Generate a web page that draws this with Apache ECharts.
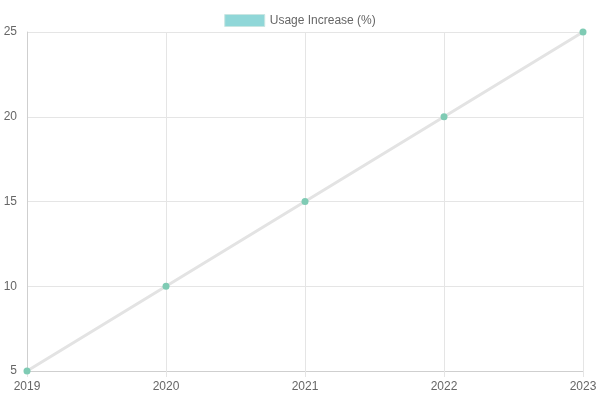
<!DOCTYPE html>
<html>
<head>
	<meta charset="utf-8">
	<title>usage</title>
	<script src="https://cdn.jsdelivr.net/npm/echarts@6/dist/echarts.min.js"></script>
	<style>
		html, body { margin: 0; padding: 0; background: #fff; }
		#DIV1 { width: 600px; height: 400px; }
	</style>
</head>
<body>
	<div id="DIV1"></div>
	<script>
		const years = ["2019", "2020", "2021", "2022", "2023"];
		const usageIncrease = [5, 10, 15, 20, 25];
		const seriesName = "Usage Increase (%)";

		const chart = echarts.init(document.getElementById("DIV1"));
		const fontFamily = "'Liberation Sans', Arial, sans-serif";

		chart.setOption({
			animation: false,
			textStyle: { fontFamily: fontFamily },
			legend: {
				top: 9,
				left: "center",
				itemWidth: 40,
				itemHeight: 12,
				itemGap: 10,
				textStyle: { color: "#666", fontSize: 12, fontFamily: fontFamily },
				data: [{
					name: seriesName,
					icon: "rect",
					itemStyle: { color: "#90d7d8", borderColor: "#c9e6e2", borderWidth: 1 }
				}]
			},
			grid: { left: 27, right: 17, top: 32, bottom: 29, containLabel: false },
			xAxis: {
				type: "category",
				data: years,
				boundaryGap: false,
				axisLine: { lineStyle: { color: "#cfcfcf" } },
				axisTick: { show: true, length: 6, lineStyle: { color: "#e5e5e5" } },
				axisLabel: { color: "#666", fontSize: 12, margin: 10 },
				splitLine: { show: true, lineStyle: { color: "#e5e5e5" } }
			},
			yAxis: {
				type: "value",
				min: 5,
				max: 25,
				interval: 5,
				axisLine: { show: true, lineStyle: { color: "#cfcfcf" } },
				axisTick: { show: false },
				axisLabel: { color: "#666", fontSize: 12, margin: 10 },
				splitLine: { show: true, lineStyle: { color: "#e5e5e5" } }
			},
			series: [{
				name: seriesName,
				type: "line",
				data: usageIncrease,
				symbol: "circle",
				symbolSize: 7,
				lineStyle: { color: "#e3e3e3", width: 3 },
				itemStyle: { color: "#7fcbb4" },
				z: 3
			}]
		});
	</script>
</body>
</html>
